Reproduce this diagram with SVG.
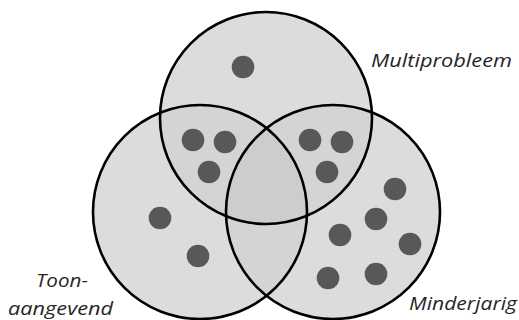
<svg xmlns="http://www.w3.org/2000/svg" width="519" height="320" viewBox="0 0 519 320">
<style>
.base{fill:#dcdcde}
.two{fill:#d4d4d6}
.three{fill:#cdcdcf}
.ring{fill:none;stroke:#000;stroke-width:2.6}
.dot{fill:#58585b}
.lbl{font-family:"Open Sans",Lato,sans-serif;font-style:italic;font-weight:400;font-size:19px;fill:#262626}
</style>
<defs>
<clipPath id="cT"><circle cx="266" cy="118" r="106"/></clipPath>
<clipPath id="cL"><circle cx="200" cy="212" r="107"/></clipPath>
<clipPath id="cR"><circle cx="333" cy="212" r="107"/></clipPath>
</defs>
<rect width="519" height="320" fill="#fff"/>
<g id="fills">
<circle class="base" cx="266" cy="118" r="106"/>
<circle class="base" cx="200" cy="212" r="107"/>
<circle class="base" cx="333" cy="212" r="107"/>
<g clip-path="url(#cT)"><circle class="two" cx="200" cy="212" r="107"/><circle class="two" cx="333" cy="212" r="107"/></g>
<g clip-path="url(#cL)"><circle class="two" cx="333" cy="212" r="107"/></g>
<g clip-path="url(#cT)"><g clip-path="url(#cL)"><circle class="three" cx="333" cy="212" r="107"/></g></g>
</g>
<g id="set-multiprobleem">
<circle class="ring" cx="266" cy="118" r="106"/>
<text class="lbl" x="371" y="67" textLength="141" lengthAdjust="spacingAndGlyphs">Multiprobleem</text>
</g>
<g id="set-toonaangevend">
<circle class="ring" cx="200" cy="212" r="107"/>
<text class="lbl" x="36" y="287" textLength="52" lengthAdjust="spacingAndGlyphs">Toon-</text>
<text class="lbl" x="8" y="315" textLength="105" lengthAdjust="spacingAndGlyphs">aangevend</text>
</g>
<g id="set-minderjarig">
<circle class="ring" cx="333" cy="212" r="107"/>
<text class="lbl" x="409" y="310" textLength="108" lengthAdjust="spacingAndGlyphs">Minderjarig</text>
</g>
<g id="dots">
<circle class="dot" cx="243" cy="67" r="11.3"/>
<circle class="dot" cx="193" cy="140" r="11.3"/>
<circle class="dot" cx="225" cy="142" r="11.3"/>
<circle class="dot" cx="209" cy="172" r="11.3"/>
<circle class="dot" cx="310" cy="140" r="11.3"/>
<circle class="dot" cx="342" cy="142" r="11.3"/>
<circle class="dot" cx="327" cy="172" r="11.3"/>
<circle class="dot" cx="160" cy="218" r="11.3"/>
<circle class="dot" cx="198" cy="256" r="11.3"/>
<circle class="dot" cx="395" cy="189" r="11.3"/>
<circle class="dot" cx="376" cy="219" r="11.3"/>
<circle class="dot" cx="410" cy="244" r="11.3"/>
<circle class="dot" cx="340" cy="235" r="11.3"/>
<circle class="dot" cx="328" cy="278" r="11.3"/>
<circle class="dot" cx="376" cy="274" r="11.3"/>
</g>
</svg>
